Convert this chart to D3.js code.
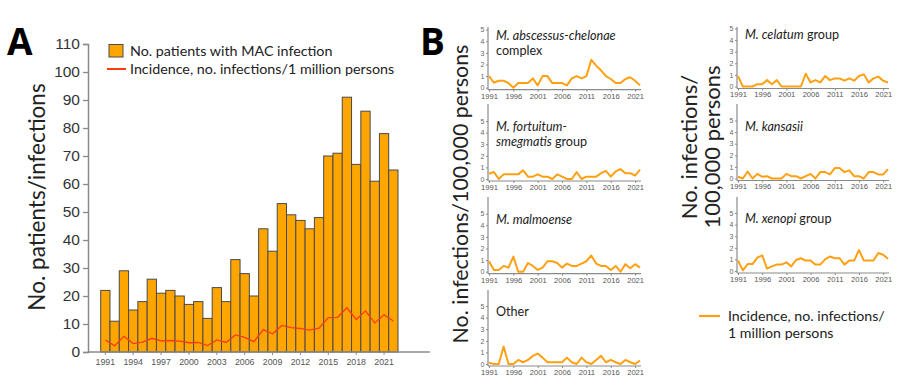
<!DOCTYPE html>
<html><head><meta charset="utf-8">
<script src="https://cdn.jsdelivr.net/npm/d3@7"></script>
<style>
html,body{margin:0;padding:0;background:#fff;}
svg{display:block;}
</style>
</head><body>
<svg id="c" width="900" height="392"></svg>
<script>
// ---------- DATA ----------
const years = d3.range(1991, 2023);
const macPatients = [22,11,29,15,18,26,21,22,20,17,18,12,23,18,33,28,20,44,36,53,49,47,44,48,70,71,91,67,86,61,78,65];
const macIncidence = [4.3,2.2,5.6,3.0,3.5,4.9,4.0,4.1,3.9,3.3,3.4,2.3,4.3,3.4,6.1,5.2,3.7,8.0,6.5,9.5,8.7,8.4,7.8,8.5,12.3,12.4,15.8,11.6,14.7,10.4,13.3,11.1];
const yTicksA = [0,10,20,30,40,50,60,70,80,90,100,110];
const xTickYearsA = [1991,1994,1997,2000,2003,2006,2009,2012,2015,2018,2021];
const xTickYearsB = [1991,1996,2001,2006,2011,2016,2021];
const yTicksB = [0,1,2,3,4,5];

const abscessus = [1.0,0.43,0.6,0.6,0.4,0,0.4,0.4,0.4,0.8,0.2,1.0,1.0,0.4,0.4,0.4,0.2,0.8,1.0,0.8,1.0,2.4,1.9,1.5,1.0,0.75,0.4,0.4,0.75,0.9,0.6,0.2];
const fortuitum = [0.45,0.6,0,0.4,0.4,0.4,0.4,0.75,0.2,0.2,0.4,0.2,0.2,0,0.4,0.2,0,0,0.6,0,0.2,0.2,0.2,0.5,0.7,0.2,0.65,0.85,0.5,0.5,0.3,0.8];
const malmoense = [0.9,0.15,0.15,0.5,0.35,1.3,0,0,0.75,0.5,0.15,0.35,0.9,0.9,0.75,0.35,0.7,0.5,0.5,0.7,0.9,1.4,0.7,0.5,0.5,0.15,0.5,0,0.65,0.3,0.65,0.35];
const other = [0.1,0,0,1.5,0,0,0.35,0.15,0.35,0.7,0.9,0.55,0.15,0.15,0.15,0.15,0.55,0.15,0,0.55,0.15,0,0.35,0.7,0.15,0.35,0.15,0,0.35,0.15,0,0.3];
const celatum = [0.9,0,0,0,0.2,0.2,0.55,0.2,0.55,0,0,0,0,0,1.1,0.35,0.55,0.35,0.9,0.55,0.7,0.7,0.5,0.7,0.5,0.9,1.05,0.35,0.7,0.85,0.5,0.35];
const kansasii = [0.15,0,0.6,0,0.4,0.15,0.2,0,0,0,0.4,0.2,0.2,0,0.2,0.4,0,0.55,0.55,0.35,0.9,0.9,0.55,0.7,0.2,0.2,0,0.55,0.55,0.35,0.35,0.8];
const xenopi = [0.9,0.05,0.6,0.6,1.15,1.35,0.2,0.4,0.55,0.55,0.75,0.4,0.95,1.1,0.9,0.9,0.55,0.55,1.0,1.25,1.1,1.1,0.55,0.9,0.9,1.8,0.9,0.9,0.9,1.55,1.4,1.05];

// ---------- STYLE ----------
const BAR = "#FFA500", BAR_STROKE = "#4a4a4a", RED = "#FF3B10", ORANGE = "#FFA012";
const AXIS = "#8a8a8a", TXT = "#222", TICKTXT = "#555";
const SANS = "Lato, 'Open Sans', sans-serif";
const ARIAL = "'Liberation Sans', Arial, sans-serif";

const svg = d3.select("#c");

// ---------- PANEL A ----------
const xA = d3.scaleBand().domain(years).range([100.7, 398]).paddingInner(0).paddingOuter(0);
const yA = d3.scaleLinear().domain([0, 110]).range([352, 44]);
const gA = svg.append("g");

gA.selectAll("rect.bar").data(years).join("rect")
  .attr("class","bar")
  .attr("x", d => xA(d)).attr("width", xA.bandwidth())
  .attr("y", (d,i) => yA(macPatients[i])).attr("height", (d,i) => yA(0) - yA(macPatients[i]))
  .attr("fill", BAR).attr("stroke", BAR_STROKE).attr("stroke-width", 1);

gA.append("path")
  .datum(years.map((y,i)=>[y, macIncidence[i]]))
  .attr("fill","none").attr("stroke", RED).attr("stroke-width", 1.3)
  .attr("d", d3.line().x(d => xA(d[0]) + xA.bandwidth()/2).y(d => yA(d[1])));

// y axis A
const yAxisA = d3.axisLeft(yA).tickValues(yTicksA).tickSize(5).tickPadding(3);
const gyA = gA.append("g").attr("transform","translate(88,0)").call(yAxisA);
gyA.select(".domain").attr("stroke", AXIS).attr("stroke-width", 1.5);
gyA.selectAll(".tick line").attr("stroke", AXIS).attr("stroke-width", 1.3);
gyA.selectAll(".tick text").attr("fill", "#333").attr("font-family", ARIAL).attr("font-size", 15.5);

// x axis A
gA.append("line").attr("x1", 88).attr("x2", 430).attr("y1", 352).attr("y2", 352)
  .attr("stroke", AXIS).attr("stroke-width", 1.5);
const xAxisA = d3.axisBottom(xA).tickValues(xTickYearsA).tickSize(3).tickPadding(4);
const gxA = gA.append("g").attr("transform","translate(0,352)").call(xAxisA);
gxA.select(".domain").remove();
gxA.selectAll(".tick line").attr("stroke", AXIS);
gxA.selectAll(".tick text").attr("fill", TICKTXT).attr("font-family", ARIAL).attr("font-size", 8.8);

// legend A
gA.append("rect").attr("x",109).attr("y",44.5).attr("width",14).attr("height",12.5)
  .attr("fill", BAR).attr("stroke", BAR_STROKE).attr("stroke-width",1);
gA.append("text").attr("x",130).attr("y",55.5).text("No. patients with MAC infection")
  .attr("font-family", SANS).attr("font-size", 14.3).attr("fill", TXT);
gA.append("line").attr("x1",107).attr("x2",126).attr("y1",69).attr("y2",69).attr("stroke", RED).attr("stroke-width",2);
gA.append("text").attr("x",130).attr("y",73.5).text("Incidence, no. infections/1 million persons")
  .attr("font-family", SANS).attr("font-size", 14.3).attr("fill", TXT);

// y title A
gA.append("text").attr("transform","translate(45,197) rotate(-90)").attr("text-anchor","middle")
  .text("No. patients/infections").attr("font-family", SANS).attr("font-size", 22.5).attr("fill", TXT);

// panel letters
svg.append("text").attr("x",7).attr("y",55).text("A").attr("font-family", "'Open Sans', Lato, sans-serif")
  .attr("font-weight","bold").attr("font-size",37).attr("fill","#000");
svg.append("text").attr("x",420).attr("y",55).text("B").attr("font-family", "'Open Sans', Lato, sans-serif")
  .attr("font-weight","bold").attr("font-size",37).attr("fill","#000");

// ---------- PANEL B ----------
const xBLeft = d3.scaleLinear().domain([1991, 2022]).range([489, 640]);
const xBRight = d3.scaleLinear().domain([1991, 2022]).range([738, 888]);
const panels = [
  {data: abscessus, x: xBLeft, zero: 87.7, top: 27, lines: [[["M. abscessus-chelonae", true]], [["complex", false]]]},
  {data: fortuitum, x: xBLeft, zero: 179, top: 104, lines: [[["M. fortuitum-", true]], [["smegmatis", true], [" group", false]]]},
  {data: malmoense, x: xBLeft, zero: 271.7, top: 197, lines: [[["M. malmoense", true]]]},
  {data: other, x: xBLeft, zero: 364, top: 290, lines: [[["Other", false]]]},
  {data: celatum, x: xBRight, zero: 86.5, top: 27, lines: [[["M. celatum", true], [" group", false]]]},
  {data: kansasii, x: xBRight, zero: 178.5, top: 104, lines: [[["M. kansasii", true]]]},
  {data: xenopi, x: xBRight, zero: 271, top: 197, lines: [[["M. xenopi", true], [" group", false]]]}
];
const unitB = 11.6;

panels.forEach(p => {
  const g = svg.append("g");
  const y = d3.scaleLinear().domain([0, 5]).range([p.zero, p.zero - 5*unitB]);
  const x0 = p.x.range()[0];
  // y axis
  g.append("line").attr("x1", x0 - 1).attr("x2", x0 - 1).attr("y1", p.top).attr("y2", p.zero + 2)
    .attr("stroke", AXIS).attr("stroke-width", 1.2);
  const ya = d3.axisLeft(y).tickValues(yTicksB).tickFormat(d3.format("d")).tickSize(2).tickPadding(1.5);
  const gy = g.append("g").attr("transform", `translate(${x0 - 1},0)`).call(ya);
  gy.select(".domain").remove();
  gy.selectAll(".tick line").attr("stroke", AXIS);
  gy.selectAll(".tick text").attr("fill", "#666").attr("font-family", ARIAL).attr("font-size", 7);
  // x axis
  const xa = d3.axisBottom(p.x).tickValues(xTickYearsB).tickFormat(d3.format("d")).tickSize(2).tickPadding(1.5);
  const gx = g.append("g").attr("transform", `translate(0,${p.zero + 2})`).call(xa);
  gx.select(".domain").attr("stroke", AXIS).attr("stroke-width", 1.2).attr("d", `M${x0 - 1},0H${p.x.range()[1] + 1}`);
  gx.selectAll(".tick line").attr("stroke", AXIS);
  gx.selectAll(".tick text").attr("fill", TICKTXT).attr("font-family", ARIAL).attr("font-size", 7.6);
  // line
  g.append("path").datum(years.map((yr,i)=>[yr, p.data[i]]))
    .attr("fill","none").attr("stroke", ORANGE).attr("stroke-width", 2).attr("stroke-linejoin","round")
    .attr("d", d3.line().x(d => p.x(d[0])).y(d => y(d[1])));
  // label
  const t = g.append("text").attr("font-family", SANS).attr("font-size", 12.6).attr("fill", TXT);
  p.lines.forEach((ln, li) => {
    ln.forEach(([s, it], si) => {
      const ts = t.append("tspan").text(s).attr("font-style", it ? "italic" : "normal");
      if (si === 0) ts.attr("x", x0 + 7).attr("y", y(5) + 10 + li * 15);
    });
  });
});

// y titles B
svg.append("text").attr("transform","translate(468,194) rotate(-90)").attr("text-anchor","middle")
  .text("No. infections/100,000 persons").attr("font-family", SANS).attr("font-size", 21.4).attr("fill", TXT);
const rt = svg.append("text").attr("transform","translate(697,147) rotate(-90)").attr("text-anchor","middle")
  .attr("font-family", SANS).attr("font-size", 22).attr("fill", TXT);
rt.append("tspan").attr("x",0).attr("dy",0).text("No. infections/");
rt.append("tspan").attr("x",0).attr("dy",23).text("100,000 persons");

// legend B
svg.append("line").attr("x1",699).attr("x2",720).attr("y1",316).attr("y2",316).attr("stroke", ORANGE).attr("stroke-width",2.2);
const lb = svg.append("text").attr("font-family", SANS).attr("font-size", 14.2).attr("fill", TXT);
lb.append("tspan").attr("x",728).attr("y",320.5).text("Incidence, no. infections/");
lb.append("tspan").attr("x",728).attr("y",337.5).text("1 million persons");
</script>
</body></html>
